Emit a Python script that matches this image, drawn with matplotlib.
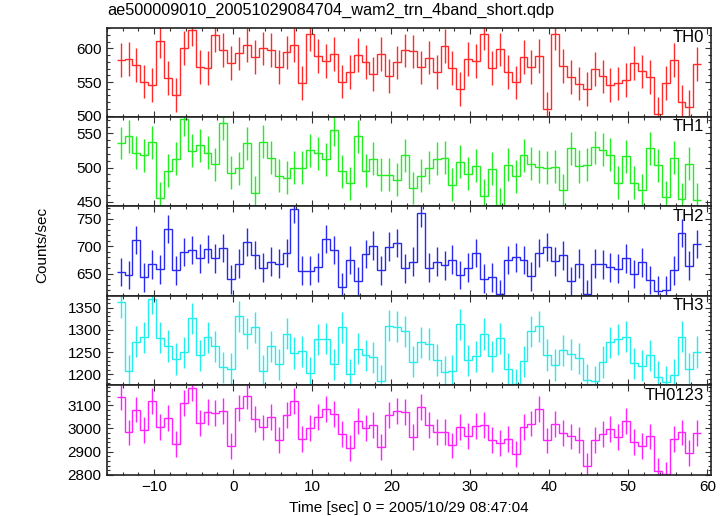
import numpy as np
import matplotlib
matplotlib.use("Agg")
import matplotlib.pyplot as plt
from matplotlib.ticker import MultipleLocator

plt.rcParams['font.family'] = ['Liberation Sans', 'DejaVu Sans']

# 1 s bins, centres of the light curve
t_first = -14.26
n_bins = 74
time = t_first + np.arange(n_bins)

th0 = [582.4, 583.8, 575.5, 550.5, 546.0, 610.8, 556.0, 531.0, 600.5, 628.0,
       572.0, 570.6, 619.6, 598.0, 578.4, 592.6, 605.0, 586.8, 600.0, 598.0,
       572.0, 594.0, 605.0, 549.0, 621.0, 588.7, 581.0, 591.7, 550.5, 564.7,
       590.0, 579.4, 562.3, 591.7, 559.3, 579.0, 597.0, 595.6, 571.6, 586.3,
       564.7, 603.4, 570.6, 539.7, 583.8, 581.4, 622.0, 570.6, 598.5, 564.7,
       549.5, 586.8, 572.6, 588.2, 510.3, 622.0, 574.0, 557.4, 547.6, 539.7,
       569.6, 558.4, 546.0, 548.0, 553.4, 578.0, 565.7, 557.0, 502.0, 548.5,
       582.9, 521.0, 513.3, 576.5]

th1 = [535.8, 545.6, 522.0, 518.1, 536.8, 455.4, 495.6, 513.2, 570.6, 524.5,
       532.4, 522.0, 504.9, 564.7, 492.7, 499.0, 535.3, 463.3, 537.7, 514.7,
       488.3, 485.3, 500.0, 500.0, 525.5, 521.0, 512.3, 554.9, 494.6, 477.0,
       546.0, 495.6, 513.2, 489.7, 489.7, 482.4, 518.1, 470.0, 488.3, 500.0,
       513.2, 514.7, 475.0, 508.8, 491.2, 503.0, 458.9, 498.5, 445.6, 504.4,
       487.3, 517.7, 505.9, 501.5, 500.0, 501.5, 466.7, 528.0, 502.0, 504.4,
       529.4, 526.0, 519.1, 478.0, 516.2, 478.0, 466.7, 528.0, 503.4, 456.4,
       514.7, 453.5, 505.9, 453.0]

th2 = [653.6, 648.2, 711.2, 644.0, 667.0, 658.5, 731.2, 656.7, 689.4, 693.0,
       677.9, 694.9, 678.5, 696.7, 640.3, 668.2, 707.6, 684.0, 661.0, 672.4,
       668.2, 687.6, 768.0, 655.5, 655.5, 662.1, 713.0, 693.0, 625.8, 674.9,
       637.3, 685.8, 700.9, 656.7, 699.1, 705.8, 660.3, 671.8, 760.3, 661.0,
       671.8, 665.8, 676.0, 648.2, 661.0, 687.6, 641.5, 644.0, 613.0, 674.9,
       680.3, 674.9, 645.8, 687.6, 698.5, 673.0, 683.3, 636.7, 668.2, 613.0,
       668.2, 667.0, 662.1, 659.1, 678.5, 650.0, 671.2, 639.0, 619.7, 620.9,
       656.7, 724.0, 664.6, 704.0]

th3 = [1362.0, 1207.5, 1273.5, 1283.3, 1369.5, 1282.5, 1263.8, 1234.5, 1249.5, 1326.0,
       1242.8, 1283.3, 1263.0, 1215.8, 1212.8, 1330.5, 1291.5, 1305.8, 1207.5, 1263.0,
       1222.5, 1291.5, 1248.0, 1251.8, 1203.0, 1278.8, 1280.3, 1222.5, 1305.8, 1200.0,
       1257.8, 1242.8, 1238.3, 1185.0, 1308.8, 1307.3, 1296.8, 1228.5, 1272.0, 1268.3,
       1232.3, 1205.3, 1207.5, 1312.5, 1231.5, 1240.5, 1290.8, 1240.5, 1281.0, 1212.8,
       1177.5, 1229.3, 1296.8, 1308.0, 1243.5, 1221.0, 1254.0, 1245.0, 1236.0, 1187.3,
       1184.3, 1227.8, 1272.0, 1278.8, 1284.8, 1224.8, 1219.5, 1242.8, 1194.8, 1182.8,
       1199.3, 1284.8, 1212.8, 1250.3]

th0123 = [3134.3, 2982.9, 3081.4, 2992.9, 3117.1, 3007.1, 3044.3, 2934.3, 3108.6, 3172.9,
          3022.9, 3070.0, 3065.7, 3074.3, 2924.3, 3088.6, 3138.6, 3040.0, 3004.3, 3048.6,
          2950.0, 3057.1, 3118.6, 2954.3, 3001.4, 3048.6, 3084.3, 3061.4, 2975.7, 2915.7,
          3031.4, 3001.4, 3014.3, 2920.0, 3058.6, 3074.3, 3071.4, 2962.9, 3091.4, 3015.7,
          2984.3, 2985.7, 2927.1, 3007.1, 2967.1, 3010.0, 3014.3, 2951.4, 2938.6, 2954.3,
          2891.4, 3005.7, 3021.4, 3082.9, 2948.6, 3018.6, 2980.0, 2965.7, 2951.4, 2840.0,
          2950.0, 2977.1, 2997.1, 2962.9, 3031.4, 2941.4, 2925.7, 2965.7, 2818.6, 2802.9,
          2954.3, 2982.9, 2895.7, 2981.4]

# typical 1-sigma error per band
band_err = [25, 24, 26, 35, 55]

bands = ['TH0', 'TH1', 'TH2', 'TH3', 'TH0123']
series = [th0, th1, th2, th3, th0123]
colors = ['#ff2a2a', '#22ee22', '#2a2aee', '#22eeee', '#ff22ff']
ylims = [(498, 631), (443, 574), (610, 772), (1175, 1376), (2800, 3185)]
ymajor = [50, 50, 50, 50, 100]
yminor = [10, 10, 10, 10, 20]

fig, axes = plt.subplots(5, 1, sharex=True, figsize=(7.28, 5.16), dpi=100)
fig.subplots_adjust(left=0.1463, right=0.9766, top=0.9467, bottom=0.0795, hspace=0)

edges = np.append(time - 0.5, time[-1] + 0.5)

for ax, name, vals, err, col, yl, ma, mi in zip(axes, bands, series, band_err,
                                               colors, ylims, ymajor, yminor):
    vals = np.array(vals)
    ax.stairs(vals, edges, baseline=None, color=col, lw=1.0)
    ax.errorbar(time, vals, yerr=err, fmt='none', ecolor=col, elinewidth=1.0, capsize=0)
    ax.set_ylim(yl)
    ax.yaxis.set_major_locator(MultipleLocator(ma))
    ax.yaxis.set_minor_locator(MultipleLocator(mi))
    ax.xaxis.set_major_locator(MultipleLocator(10))
    ax.xaxis.set_minor_locator(MultipleLocator(2))
    ax.tick_params(which='both', direction='in', top=True, right=True,
                   labelsize=11, color='#333333', width=0.8)
    ax.tick_params(which='major', length=4.5)
    ax.tick_params(which='minor', length=2.3)
    for sp in ax.spines.values():
        sp.set_linewidth(1.2)
        sp.set_color('#222222')
    ax.text(0.988, 0.975, name, transform=ax.transAxes, ha='right', va='top', fontsize=12)

axes[-1].set_xlim(-16.05, 60.47)
axes[-1].set_xlabel('Time [sec] 0 = 2005/10/29 08:47:04', fontsize=11, labelpad=5)
fig.text(0.058, 0.525, 'Counts/sec', rotation=90, ha='center', va='center', fontsize=11)
fig.text(0.148, 0.965, 'ae500009010_20051029084704_wam2_trn_4band_short.qdp',
         ha='left', va='bottom', fontsize=11.7)

fig.savefig('out.png', dpi=100)
